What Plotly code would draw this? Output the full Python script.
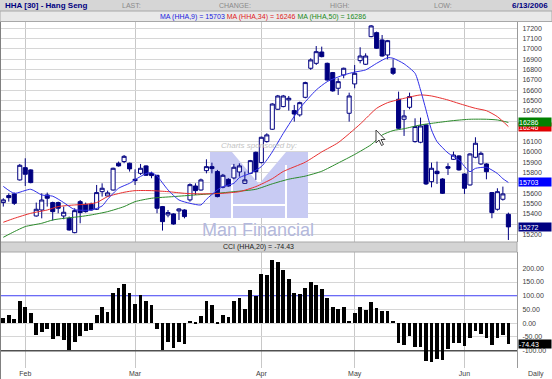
import plotly.graph_objects as go

# ---------------- data ----------------
idx = list(range(93))
month_ticks = [4, 24, 47, 64, 84]
month_labels = ["Feb", "Mar", "Apr", "May", "Jun"]

opens = [15508,15576,15592,15728,15847,15825,15378,15436,15582,15508,
         15508,15378,15355,15216,15517,15491,15491,15443,15614,15572,
         15630,15890,15906,15890,15734,15792,15864,15792,15773,15469,
         15388,15398,15427,15436,15534,15669,15630,15818,15857,15809,
         15657,15734,15747,15805,15695,15792,15996,15896,16100,16220,
         16414,16440,16505,16401,16359,16530,16812,16860,16970,16860,
         16770,16618,16747,16375,16660,16886,16851,17119,17158,17087,
         16941,16812,16511,16317,16433,16100,16094,16262,15711,15812,
         15737,15857,15928,15961,15786,15679,15948,15883,15883,15605,
         15443,15540,15394]
highs = [15550,15598,15605,15883,15938,15831,15508,15598,15605,15517,
         15517,15469,15372,15453,15533,15508,15508,15679,15695,15624,
         15847,15906,15970,15896,15831,15883,15870,15808,15776,15475,
         15436,15404,15453,15443,15695,15695,15741,15928,15896,15825,
         15786,15744,15883,15889,15809,15922,16003,16148,16181,16472,
         16553,16553,16543,16456,16488,16682,16909,17028,17022,16867,
         16776,16715,16818,16575,16844,17016,16957,17232,17168,17135,
         17087,16899,16585,16407,16575,16326,16333,16271,15896,15906,
         15744,15890,16003,15967,15792,15987,16142,16003,15890,15611,
         15647,15663,15410]
lows = [15469,15517,15485,15721,15669,15695,15372,15355,15469,15333,
        15404,15346,15236,15210,15307,15411,15430,15436,15566,15566,
        15624,15857,15890,15809,15679,15776,15766,15744,15404,15236,
        15365,15294,15339,15355,15517,15582,15624,15792,15792,15559,
        15647,15663,15734,15760,15689,15786,15728,15889,16090,16213,
        16407,16433,16401,16294,16342,16520,16796,16844,16918,16692,
        16585,16553,16715,16294,16618,16860,16844,17113,16999,16925,
        16899,16747,16220,16155,16414,16090,16084,15679,15656,15689,
        15592,15776,15922,15818,15592,15673,15938,15873,15734,15356,
        15430,15527,15145]
closes = [15534,15556,15501,15870,15783,15702,15443,15533,15550,15420,
          15453,15414,15242,15430,15411,15420,15436,15605,15647,15602,
          15841,15864,15957,15835,15721,15841,15773,15770,15453,15323,
          15411,15300,15446,15372,15682,15624,15728,15857,15838,15566,
          15773,15669,15851,15864,15728,15915,15808,16142,16165,16465,
          16543,16543,16521,16368,16478,16673,16893,16973,16925,16698,
          16592,16682,16812,16543,16763,16931,16931,17223,17006,16931,
          17080,16763,16229,16349,16537,16246,16252,15689,15841,15789,
          15598,15841,15970,15825,15647,15980,16084,15986,15808,15411,
          15614,15592,15272]

ma9_x = [0,2,5,7,9,11,13,16,18,19,21,23,24,26,27,28,30,32,34,36,37,39,40,42,43,
         45,47,48,49,51,54,57,59,62,64,66,68,70,71,73,75,76,77,78,79,81,83,85,86,88,90,91,92]
ma9_y = [15665,15598,15637,15582,15570,15508,15440,15436,15475,15540,15647,15695,15730,
         15790,15799,15765,15631,15533,15501,15485,15540,15631,15663,15695,15750,15792,
         15857,15922,16000,16180,16423,16601,16682,16747,16775,16796,16860,16915,16909,
         16855,16763,16601,16407,16213,16100,15990,15920,15808,15840,15850,15790,15740,15703]
ma34_x = [0,2,5,8,10,13,15,17,19,22,24,27,30,33,36,40,43,46,49,51,55,58,61,65,68,70,
          73,76,78,81,83,86,88,90,92]
ma34_y = [15317,15355,15404,15436,15469,15485,15491,15508,15566,15608,15624,15624,15614,
          15598,15592,15598,15614,15663,15740,15810,15900,16000,16090,16270,16423,16478,
          16520,16553,16543,16504,16470,16423,16400,16342,16246]
ma50_x = [0,2,4,7,9,11,14,16,19,22,24,27,31,35,39,42,46,49,52,55,58,61,64,67,69,71,73,
          76,79,82,85,88,90,92]
ma50_y = [15171,15226,15275,15307,15339,15355,15372,15388,15420,15469,15517,15550,15566,
          15582,15598,15614,15637,15690,15735,15765,15812,15892,15975,16070,16164,16207,
          16225,16262,16284,16304,16317,16317,16310,16286]

cci = [20,30,14,81,60,37,-44,-31,-21,-58,
       -45,-61,-96,-70,-48,-28,-26,30,58,42,
       111,129,142,110,71,103,82,65,-21,-96,
       -70,-91,-67,-77,8,5,26,82,67,3,
       29,24,80,92,50,121,99,179,176,231,
       224,195,160,110,106,127,149,139,125,91,
       58,50,58,8,38,59,48,77,54,43,
       44,8,-71,-79,-47,-87,-88,-138,-143,-132,
       -134,-95,-71,-73,-82,-55,-28,-38,-54,-79,
       -55,-43,-74.43]
cci_ticks = [-100, -50, 0, 50, 100, 150, 200]
cci_ticktext = ["-100.00", "-50.00", "0.00", "50.00", "100.00", "150.00", "200.00"]

price_ticks = [15200, 15300, 15400, 15500, 15600, 15700, 15800, 15900, 16000, 16100, 16200,
               16300, 16400, 16500, 16600, 16700, 16800, 16900, 17000, 17100, 17200]
# labels hidden where the value boxes sit on top of them
covered = [15300, 15700, 16200, 16300]
price_ticktext = ["" if v in covered else str(v) for v in price_ticks]

last_ma9, last_ma34, last_ma50 = 15703, 16246, 16286
last_close = 15272
last_cci = -74.43

# ---------------- geometry helpers ----------------
W, H = 552, 379
ML, MR, MT, MB = 1, 35, 22, 11
PW, PH = W - ML - MR, H - MT - MB
def px(x):
    return (x - ML) / PW
def py(y):
    return (H - MB - y) / PH
def ix(x):   # pixel -> index coordinate (for decorations)
    return (x - 3.3) / 5.49
def pv(y):   # pixel -> price coordinate (for decorations)
    return 17200 - (y - 28.3) / 0.103

FONT = "Arial, Liberation Sans, sans-serif"
NAVY = "#000080"

fig = go.Figure()

fig.add_trace(go.Candlestick(
    x=idx, open=opens, high=highs, low=lows, close=closes,
    increasing=dict(line=dict(color=NAVY, width=1), fillcolor="white"),
    decreasing=dict(line=dict(color=NAVY, width=1), fillcolor=NAVY),
    whiskerwidth=0, showlegend=False, hoverinfo="skip",
    xaxis="x", yaxis="y"))

for xs, ys, col in [(ma50_x, ma50_y, "#2a8a2a"), (ma34_x, ma34_y, "#e83030"),
                    (ma9_x, ma9_y, "#3030e8")]:
    fig.add_trace(go.Scatter(x=xs, y=ys, mode="lines",
                             line=dict(color=col, width=1, shape="spline", smoothing=0.6),
                             showlegend=False, hoverinfo="skip", xaxis="x", yaxis="y"))

fig.add_trace(go.Bar(x=idx, y=cci, width=0.68, marker=dict(color="black", line=dict(width=0)),
                     showlegend=False, hoverinfo="skip", xaxis="x2", yaxis="y2"))

xr = [ix(ML), ix(W - MR)]
grid = "#d6d6d6"
fig.update_layout(
    width=W, height=H, margin=dict(l=ML, r=MR, t=MT, b=MB),
    paper_bgcolor="white", plot_bgcolor="rgba(0,0,0,0)",
    font=dict(family=FONT, size=7, color="#404040"),
    boxgap=0.14, boxgroupgap=0.14, bargap=0,
    xaxis=dict(domain=[0, 1], range=xr, anchor="y", tickvals=month_ticks,
               showticklabels=False, showgrid=True, gridcolor="#c8c8c8", gridwidth=1,
               zeroline=False, rangeslider=dict(visible=False), showline=False, ticks=""),
    yaxis=dict(domain=[py(242), 1], range=[pv(242), pv(22)], side="right", anchor="x",
               tickvals=price_ticks, ticktext=price_ticktext, showgrid=True, gridcolor=grid,
               zeroline=False, showline=True, linecolor="#9a9a9a", ticks="",
               ticklabelstandoff=3, tickfont=dict(size=7, color="#404040")),
    xaxis2=dict(domain=[0, 1], range=xr, anchor="y2", tickvals=month_ticks,
                ticktext=month_labels, showgrid=True, gridcolor="#c8c8c8",
                zeroline=False, ticks="", showline=False, tickfont=dict(size=7, color="#404040")),
    yaxis2=dict(domain=[0, py(252)], range=[-163.2, 259.4], side="right", anchor="x2",
                tickvals=cci_ticks, ticktext=cci_ticktext, showgrid=True, gridcolor=grid,
                zeroline=False, showline=True, linecolor="#9a9a9a", ticks="",
                ticklabelstandoff=3, tickfont=dict(size=7, color="#404040")),
)

shapes = []
# header rows
shapes.append(dict(type="rect", xref="paper", yref="paper", x0=px(0), x1=px(W), y0=py(11), y1=py(0),
                   fillcolor="#d6d6d6", line=dict(width=0), layer="above"))
shapes.append(dict(type="rect", xref="paper", yref="paper", x0=px(0), x1=px(W), y0=py(21.5), y1=py(11),
                   fillcolor="#e9e9e9", line=dict(color="#a8a8a8", width=1), layer="above"))
# CCI title bar
shapes.append(dict(type="rect", xref="paper", yref="paper", x0=px(0), x1=px(517), y0=py(252), y1=py(242),
                   fillcolor="#d4d4d4", line=dict(color="#a8a8a8", width=1), layer="above"))
# left border
shapes.append(dict(type="line", xref="paper", yref="paper", x0=px(0.5), x1=px(0.5), y0=py(379), y1=py(22),
                   line=dict(color="#808080", width=1)))
# CCI reference lines (drawn under the bars)
shapes.append(dict(type="line", xref="x2", yref="y2", x0=xr[0], x1=xr[1], y0=100, y1=100,
                   line=dict(color="#4848ff", width=1), layer="between"))
shapes.append(dict(type="line", xref="x2", yref="y2", x0=xr[0], x1=xr[1], y0=-100, y1=-100,
                   line=dict(color="#505050", width=1.5), layer="between"))
# sponsor logo (M block)
pts = [(210, 152), (232, 152), (259, 184), (286, 152), (308, 152), (308, 218), (210, 218)]
path = "M " + " L ".join(f"{ix(a):.4f},{pv(b):.2f}" for a, b in pts) + " Z"
shapes.append(dict(type="path", xref="x", yref="y", path=path,
                   fillcolor="#c8cbf3", line=dict(width=0), layer="between"))
for (a0, b0, a1, b1) in [(232, 165, 232, 218), (286, 165, 286, 218), (232, 205, 286, 205)]:
    shapes.append(dict(type="line", xref="x", yref="y", x0=ix(a0), y0=pv(b0),
                       x1=ix(a1), y1=pv(b1), line=dict(color="white", width=2), layer="between"))
# mouse cursor
cur = [(376, 130), (376, 143), (379, 140), (381.5, 145.5), (383.5, 144.5), (381, 139.5), (385, 139.5)]
cpath = "M " + " L ".join(f"{ix(a):.4f},{pv(b):.2f}" for a, b in cur) + " Z"
shapes.append(dict(type="path", xref="x", yref="y", path=cpath,
                   fillcolor="white", line=dict(color="#404040", width=1), layer="above"))
fig.update_layout(shapes=shapes)

ann = []
def A(text, x, y, size=7, color="#404040", xanchor="left", **kw):
    ann.append(dict(text=text, x=px(x), y=py(y), xref="paper", yref="paper", showarrow=False,
                    xanchor=xanchor, yanchor="middle", font=dict(family=FONT, size=size, color=color), **kw))

A("<b>HHA [30] - Hang Seng</b>", 3, 5.5, size=8, color=NAVY)
A("LAST:", 120, 5.5, color="#8a8a8a")
A("CHANGE:", 217, 5.5, color="#8a8a8a")
A("HIGH:", 328, 5.5, color="#8a8a8a")
A("LOW:", 432, 5.5, color="#8a8a8a")
A("<b>6/13/2006</b>", 550, 5.5, size=8, color=NAVY, xanchor="right")
A(f"<span style='color:#2020e0'>MA (HHA,9) = {last_ma9}</span> "
  f"<span style='color:#e02020'>MA (HHA,34) = {last_ma34}</span> "
  f"<span style='color:#1a8a1a'>MA (HHA,50) = {last_ma50}</span>", 263, 16.5, xanchor="center")
A(f"CCI (HHA,20) = {last_cci}", 258, 247, color="#202020", xanchor="center")
A("Daily", 536, 373.5, xanchor="center")
A("<i>Charts sponsored by:</i>", 259, 145, size=8, color="#c4c4c4", xanchor="center")
A("Man Financial", 258, 230, size=18, color="#b4b9dc", xanchor="center")

# value boxes on right axis
def box(val, yref, bg):
    ann.append(dict(text=f"{val}", x=1, y=val, xref="paper", yref=yref, showarrow=False,
                    xanchor="left", yanchor="middle", xshift=1, align="left", width=32, height=8,
                    bgcolor=bg, borderpad=0, font=dict(family=FONT, size=7, color="white")))
box(last_ma34, "y", "#e00000")
box(last_ma50, "y", "#008000")
box(last_ma9, "y", "#0000ff")
box(last_close, "y", NAVY)
box(last_cci, "y2", "black")
fig.update_layout(annotations=ann)

fig.write_html("out.html", config={"displayModeBar": False},
               post_script="document.body.style.margin='0';")
